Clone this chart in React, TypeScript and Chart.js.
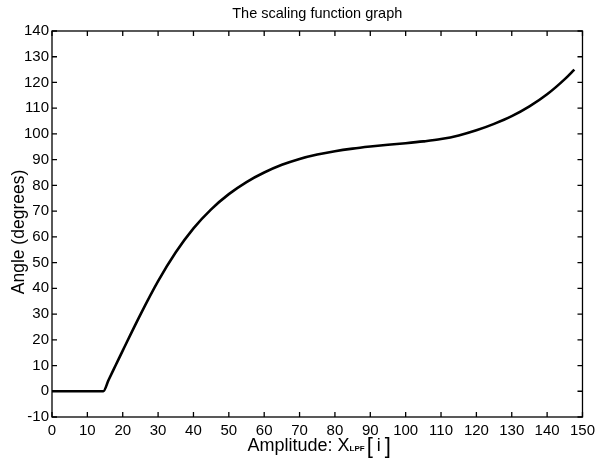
import React, { useEffect, useRef } from "react";
import { Chart, registerables } from "chart.js";

Chart.register(...registerables);

const amplitude = [0, 14.5, 16, 18, 20, 25, 30, 35, 40, 45, 50, 55, 60, 65, 70, 75, 80, 85, 90, 95, 100, 105, 110, 115, 120, 125, 130, 135, 140, 145, 147.7];
const angle = [0, 0, 4.4, 10.1, 15.8, 29.8, 42.8, 54.0, 63.3, 70.7, 76.6, 81.3, 85.0, 88.0, 90.3, 92.0, 93.3, 94.3, 95.1, 95.8, 96.4, 97.1, 98.0, 99.4, 101.4, 103.9, 106.9, 110.7, 115.4, 121.3, 125.0];

const xTicks = [0, 10, 20, 30, 40, 50, 60, 70, 80, 90, 100, 110, 120, 130, 140, 150];
const yTicks = [-10, 0, 10, 20, 30, 40, 50, 60, 70, 80, 90, 100, 110, 120, 130, 140];

const titleText = "The scaling function graph";
const yTitle = "Angle (degrees)";
const xTitleMain = "Amplitude: X";
const xTitleSub = "LPF";

const FONT = "'Liberation Sans', Arial, Helvetica, sans-serif";

const boxPlugin = {
  id: "boxPlugin",
  afterDraw(chart: any) {
    const { ctx, chartArea } = chart;
    const { left, right, top, bottom } = chartArea;
    const xs = chart.scales.x;
    const ys = chart.scales.y;
    ctx.save();
    ctx.strokeStyle = "#000";
    ctx.lineWidth = 1.3;
    ctx.strokeRect(left, top, right - left, bottom - top);
    const tl = 5;
    ctx.beginPath();
    xTicks.forEach((v) => {
      const px = xs.getPixelForValue(v);
      ctx.moveTo(px, bottom);
      ctx.lineTo(px, bottom - tl);
      ctx.moveTo(px, top);
      ctx.lineTo(px, top + tl);
    });
    yTicks.forEach((v) => {
      const py = ys.getPixelForValue(v);
      ctx.moveTo(left, py);
      ctx.lineTo(left + tl, py);
      ctx.moveTo(right, py);
      ctx.lineTo(right - tl, py);
    });
    ctx.stroke();

    ctx.fillStyle = "#000";
    // title
    ctx.font = `14.5px ${FONT}`;
    ctx.textAlign = "center";
    ctx.textBaseline = "alphabetic";
    ctx.fillText(titleText, (left + right) / 2, 18);

    // x title with subscript
    const cx = (left + right) / 2;
    ctx.font = `18px ${FONT}`;
    const wMain = ctx.measureText(xTitleMain).width;
    const wI = ctx.measureText("i").width;
    ctx.font = `22px ${FONT}`;
    const wB1 = ctx.measureText("[").width;
    const wB2 = ctx.measureText("]").width;
    ctx.font = `bold 8px ${FONT}`;
    const wSub = ctx.measureText(xTitleSub).width;
    const gap = 4;
    const total = wMain + wSub + 2 + wB1 + gap + wI + gap + wB2;
    let x0 = cx - total / 2 + 2;
    const base = 451;
    ctx.textAlign = "left";
    ctx.font = `18px ${FONT}`;
    ctx.fillText(xTitleMain, x0, base);
    x0 += wMain;
    ctx.font = `bold 8px ${FONT}`;
    ctx.fillText(xTitleSub, x0, base);
    x0 += wSub + 2;
    ctx.font = `22px ${FONT}`;
    ctx.fillText("[", x0, base + 2);
    x0 += wB1 + gap;
    ctx.font = `18px ${FONT}`;
    ctx.fillText("i", x0, base);
    x0 += wI + gap;
    ctx.font = `22px ${FONT}`;
    ctx.fillText("]", x0, base + 2);

    // y title
    ctx.save();
    ctx.translate(24, 232);
    ctx.rotate(-Math.PI / 2);
    ctx.textAlign = "center";
    ctx.font = `17.5px ${FONT}`;
    ctx.fillText(yTitle, 0, 0);
    ctx.restore();

    ctx.restore();
  },
};

export default function App() {
  const ref = useRef<HTMLCanvasElement | null>(null);
  useEffect(() => {
    if (!ref.current) return;
    const data = amplitude.map((a, i) => ({ x: a, y: angle[i] }));
    const chart = new Chart(ref.current, {
      type: "line",
      data: {
        datasets: [
          {
            data,
            borderColor: "#000",
            borderWidth: 2.6,
            pointRadius: 0,
            fill: false,
            cubicInterpolationMode: "monotone",
          },
        ],
      },
      options: {
        animation: false,
        responsive: false,
        maintainAspectRatio: false,
        layout: { padding: { left: 0, top: 31, right: 15, bottom: 0 } },
        plugins: { legend: { display: false }, title: { display: false }, tooltip: { enabled: false } },
        scales: {
          x: {
            type: "linear",
            min: 0,
            max: 150,
            afterBuildTicks: (s: any) => { s.ticks = xTicks.map((v) => ({ value: v })); },
            ticks: { color: "#000", font: { family: FONT, size: 15 }, padding: 5, maxRotation: 0, autoSkip: false },
            grid: { display: false, drawTicks: false },
            border: { display: false },
            afterFit: (s: any) => { s.height = 42; },
          },
          y: {
            type: "linear",
            min: -10,
            max: 140,
            afterBuildTicks: (s: any) => { s.ticks = yTicks.map((v) => ({ value: v })); },
            ticks: { color: "#000", font: { family: FONT, size: 15 }, padding: 3, autoSkip: false },
            grid: { display: false, drawTicks: false },
            border: { display: false },
            afterFit: (s: any) => { s.width = 52; },
          },
        },
      },
      plugins: [boxPlugin],
    } as any);
    return () => chart.destroy();
  }, []);
  return (
    <div style={{ position: "fixed", left: 0, top: 0, width: 600, height: 459, background: "#fff" }}>
      <canvas ref={ref} width={600} height={459} style={{ width: 600, height: 459 }} />
    </div>
  );
}
